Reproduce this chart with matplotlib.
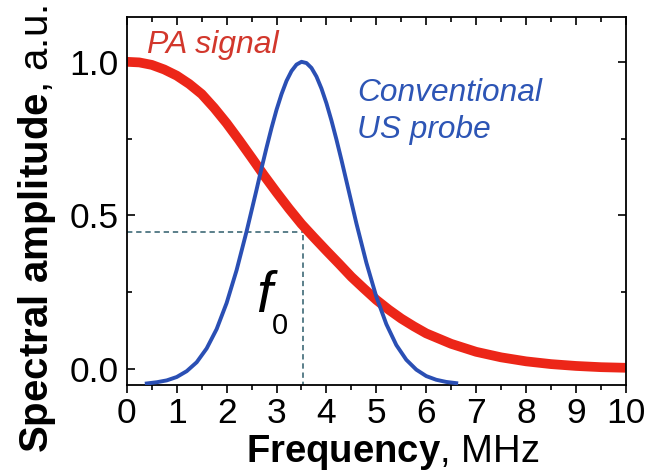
import matplotlib
matplotlib.use("Agg")
import matplotlib.pyplot as plt
from matplotlib.ticker import MultipleLocator

plt.rcParams['font.family'] = ['Liberation Sans', 'DejaVu Sans']
plt.rcParams['mathtext.fontset'] = 'custom'
plt.rcParams['mathtext.rm'] = 'Liberation Sans'
plt.rcParams['mathtext.bf'] = 'Liberation Sans:bold'
plt.rcParams['mathtext.it'] = 'Liberation Sans:italic'

# PA signal spectrum
pa_freq = [0, 0.25, 0.5, 0.75, 1.0, 1.25, 1.5, 1.75, 2.0, 2.25, 2.5, 2.75, 3.0,
           3.25, 3.5, 3.75, 4.0, 4.25, 4.5, 4.75, 5.0, 5.25, 5.5, 5.75, 6.0,
           6.5, 7.0, 7.5, 8.0, 8.5, 9.0, 9.5, 10.0]
pa_amp = [1.000, 0.998, 0.990, 0.975, 0.955, 0.928, 0.895, 0.850, 0.800, 0.745,
          0.688, 0.630, 0.575, 0.522, 0.472, 0.428, 0.385, 0.343, 0.300, 0.262,
          0.225, 0.193, 0.164, 0.139, 0.116, 0.082, 0.056, 0.038, 0.025, 0.016,
          0.010, 0.006, 0.004]

# Conventional US probe response
us_freq = [0.4, 0.6, 0.8, 1.0, 1.2, 1.4, 1.6, 1.8, 2.0, 2.2, 2.4, 2.6, 2.7,
           2.8, 2.9, 3.0, 3.1, 3.2, 3.3, 3.4, 3.5, 3.6, 3.7, 3.8, 3.9, 4.0,
           4.1, 4.2, 4.3, 4.4, 4.6, 4.8, 5.0, 5.2, 5.4, 5.6, 5.8, 6.0, 6.2,
           6.4, 6.6]
us_amp = [-0.047, -0.043, -0.037, -0.026, -0.007, 0.022, 0.067, 0.130, 0.215,
          0.322, 0.448, 0.584, 0.654, 0.721, 0.785, 0.844, 0.895, 0.938, 0.970,
          0.991, 1.000, 0.996, 0.980, 0.952, 0.913, 0.865, 0.809, 0.747, 0.681,
          0.612, 0.474, 0.346, 0.235, 0.146, 0.078, 0.030, -0.002, -0.023,
          -0.035, -0.042, -0.046]

f0 = 3.53
f0_amp = 0.447

x_ticks = list(range(0, 11))
y_ticks = [0.0, 0.5, 1.0]
y_ticklabels = ['0.0', '0.5', '1.0']

fig = plt.figure(figsize=(6.47, 4.71), dpi=100)
ax = fig.add_axes([0.196, 0.1826, 0.7714, 0.7814])

dash_col = '#2e5d6b'
ax.plot([0, f0], [f0_amp, f0_amp], color=dash_col, lw=1.1, ls=(0, (3.5, 2.5)), zorder=1)
ax.plot([f0, f0], [-0.06, f0_amp], color=dash_col, lw=1.1, ls=(0, (3.5, 2.5)), zorder=1)

ax.plot(pa_freq, pa_amp, color='#ec2618', lw=7, solid_capstyle='butt',
        solid_joinstyle='round', zorder=2)
ax.plot(us_freq, us_amp, color='#2a4fb4', lw=2.8, solid_joinstyle='round', zorder=3)

ax.set_xlim(0, 10)
ax.set_ylim(-0.052, 1.146)
ax.set_xticks(x_ticks)
ax.set_xticklabels([str(v) for v in x_ticks])
ax.xaxis.set_minor_locator(MultipleLocator(0.5))
ax.set_yticks(y_ticks)
ax.set_yticklabels(y_ticklabels)
ax.yaxis.set_minor_locator(MultipleLocator(0.25))

ax.tick_params(axis='x', which='both', direction='out', top=True, labelsize=25.5, pad=3)
ax.tick_params(axis='y', which='both', direction='in', right=True, labelsize=25.5, pad=6)
ax.tick_params(which='major', length=6, width=1.2)
ax.tick_params(which='minor', length=3.5, width=1.2)
# top ticks point inward
for t in ax.xaxis.get_major_ticks() + ax.xaxis.get_minor_ticks():
    t.tick2line.set_marker(3)  # TICKDOWN
for sp in ax.spines.values():
    sp.set_linewidth(1.3)

ax.set_xlabel(r'$\mathbf{Frequency}$, MHz', fontsize=27.5)
ax.xaxis.set_label_coords(0.532, -0.130)
ax.set_ylabel(r'$\mathbf{Spectral\ amplitude}$, a.u.', fontsize=29)
ax.yaxis.set_label_coords(-0.137, 0.424)

ax.text(0.4, 1.055, 'PA signal', color='#d2372c', fontsize=23, style='italic',
        va='center', ha='left')
ax.text(4.62, 0.90, 'Conventional', color='#2d55b5', fontsize=22.8, style='italic',
        va='center', ha='left')
ax.text(4.62, 0.777, 'US probe', color='#2d55b5', fontsize=22.8, style='italic',
        va='center', ha='left')

ax.text(2.6, 0.185, 'f', fontsize=41, style='italic', va='baseline', ha='left')
ax.text(3.07, 0.114, '0', fontsize=21, va='baseline', ha='center')

fig.savefig('out.png', dpi=100)
